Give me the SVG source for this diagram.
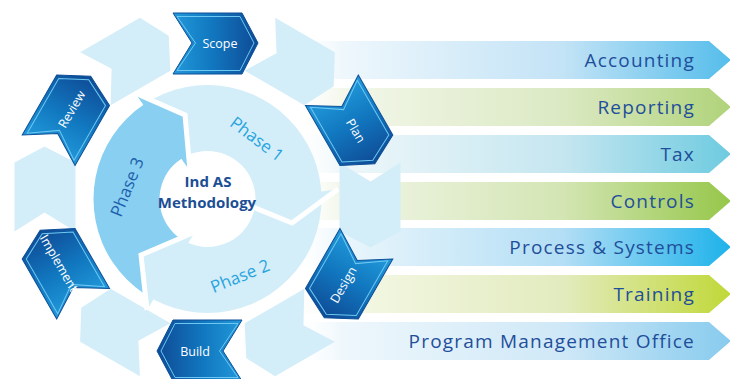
<svg xmlns="http://www.w3.org/2000/svg" width="730" height="379" viewBox="0 0 730 379">
<defs>
<style>
.bt{font-family:"Open Sans","Liberation Sans",sans-serif;font-size:19px;fill:#1f4e9a;text-anchor:end;letter-spacing:1.2px}
.cl{font-family:"Open Sans","Liberation Sans",sans-serif;font-size:12.5px;fill:#ffffff;text-anchor:middle}
.ph{font-family:"Open Sans","Liberation Sans",sans-serif;font-size:17px;text-anchor:middle}
.ct{font-family:"Open Sans","Liberation Sans",sans-serif;font-size:15px;font-weight:bold;fill:#1c4e95;text-anchor:middle}
.light{fill:#d4eef9}
.p3{fill:#88cff1}
.dark{fill:url(#gChev);stroke:#0e4f98;stroke-width:1}
.inset{fill:none;stroke:#6cc8f2;stroke-width:1}
.gap{fill:none;stroke:#ffffff;stroke-width:5;stroke-linejoin:miter;stroke-linecap:butt}
</style>
<linearGradient id="gChev" gradientUnits="userSpaceOnUse" x1="173" y1="43" x2="258" y2="43">
<stop offset="0" stop-color="#2299da"/><stop offset="0.45" stop-color="#1178c0"/><stop offset="1" stop-color="#0f4a95"/>
</linearGradient>
<linearGradient id="g1" gradientUnits="userSpaceOnUse" x1="290" y1="0" x2="731" y2="0"><stop offset="0" stop-color="#fff" stop-opacity="0"/><stop offset="0.12" stop-color="#eef7fc"/><stop offset="0.62" stop-color="#c3e3f6"/><stop offset="1" stop-color="#55bdeb"/></linearGradient>
<linearGradient id="g2" gradientUnits="userSpaceOnUse" x1="290" y1="0" x2="731" y2="0"><stop offset="0" stop-color="#fff" stop-opacity="0"/><stop offset="0.12" stop-color="#f3f7ea"/><stop offset="0.62" stop-color="#dbe9c3"/><stop offset="1" stop-color="#b0d37a"/></linearGradient>
<linearGradient id="g3" gradientUnits="userSpaceOnUse" x1="290" y1="0" x2="731" y2="0"><stop offset="0" stop-color="#fff" stop-opacity="0"/><stop offset="0.12" stop-color="#eef7fa"/><stop offset="0.62" stop-color="#c5e6f0"/><stop offset="1" stop-color="#6ecbe0"/></linearGradient>
<linearGradient id="g4" gradientUnits="userSpaceOnUse" x1="290" y1="0" x2="731" y2="0"><stop offset="0" stop-color="#fff" stop-opacity="0"/><stop offset="0.12" stop-color="#f1f6e8"/><stop offset="0.62" stop-color="#d3e5b3"/><stop offset="1" stop-color="#96c74a"/></linearGradient>
<linearGradient id="g5" gradientUnits="userSpaceOnUse" x1="290" y1="0" x2="731" y2="0"><stop offset="0" stop-color="#fff" stop-opacity="0"/><stop offset="0.12" stop-color="#eaf6fc"/><stop offset="0.62" stop-color="#b3def5"/><stop offset="1" stop-color="#1db2ea"/></linearGradient>
<linearGradient id="g6" gradientUnits="userSpaceOnUse" x1="290" y1="0" x2="731" y2="0"><stop offset="0" stop-color="#fff" stop-opacity="0"/><stop offset="0.12" stop-color="#f4f8e6"/><stop offset="0.62" stop-color="#e2ebbe"/><stop offset="1" stop-color="#c1d838"/></linearGradient>
<linearGradient id="g7" gradientUnits="userSpaceOnUse" x1="290" y1="0" x2="731" y2="0"><stop offset="0" stop-color="#fff" stop-opacity="0"/><stop offset="0.12" stop-color="#eef7fc"/><stop offset="0.62" stop-color="#cfe8f7"/><stop offset="1" stop-color="#88cbee"/></linearGradient>
<clipPath id="ring"><path clip-rule="evenodd" d="M93.5,199 A114,114 0 1,0 321.5,199 A114,114 0 1,0 93.5,199 Z M159.5,199 A48,48 0 1,0 255.5,199 A48,48 0 1,0 159.5,199 Z"/></clipPath>
<path id="chev" d="M173,13 L242,13 L258,43 L242,74 L173,74 L192,43 Z"/>
<path id="chevIn" d="M177,16.5 L240,16.5 L254,43 L240,70.5 L177,70.5 L195.5,43 Z"/>
</defs>

<rect width="730" height="379" fill="#ffffff"/>

<g id="bars">
<g id="bar-accounting"><polygon points="290,41 709,41 731,60 709,79 290,79" fill="url(#g1)"/><text class="bt" x="695" y="66.5">Accounting</text></g>
<g id="bar-reporting"><polygon points="290,88 709,88 731,107 709,126 290,126" fill="url(#g2)"/><text class="bt" x="695" y="113.5">Reporting</text></g>
<g id="bar-tax"><polygon points="290,135 709,135 731,154 709,173 290,173" fill="url(#g3)"/><text class="bt" x="695" y="160.5">Tax</text></g>
<g id="bar-controls"><polygon points="290,182 709,182 731,201 709,220 290,220" fill="url(#g4)"/><text class="bt" x="695" y="207.5">Controls</text></g>
<g id="bar-process"><polygon points="290,228 709,228 731,247 709,266 290,266" fill="url(#g5)"/><text class="bt" x="695" y="253.5">Process &amp; Systems</text></g>
<g id="bar-training"><polygon points="290,275 709,275 731,294 709,313 290,313" fill="url(#g6)"/><text class="bt" x="695" y="300.5">Training</text></g>
<g id="bar-pmo"><polygon points="290,322 709,322 731,341 709,360 290,360" fill="url(#g7)"/><text class="bt" x="695" y="347.5">Program Management Office</text></g>
</g>

<g id="light-chevrons" class="light">
<use href="#chev" transform="translate(4,0) rotate(30 207.5 197) translate(0,-3)"/>
<use href="#chev" transform="translate(6,0) rotate(90 207.5 197) translate(0,-3)"/>
<use href="#chev" transform="translate(4,0) rotate(150 207.5 197) translate(0,-3)"/>
<use href="#chev" transform="translate(-4,0) rotate(210 207.5 197) translate(0,-3)"/>
<use href="#chev" transform="translate(-6,0) rotate(270 207.5 197) translate(0,-3)"/>
<use href="#chev" transform="translate(-4,0) rotate(330 207.5 197) translate(0,-3)"/>
</g>

<g id="phase-ring">
<g id="phase1">
<polygon class="light" clip-path="url(#ring)" points="207.5,199 190,171 185,115 135,93 100,-20 450,-20 450,180 338,189 292,223 244,203.5"/>
<polygon class="light" points="338,189 292,223 244,203.5"/>
</g>
<g id="phase2">
<polygon class="light" clip-path="url(#ring)" points="207.5,199 244,203.5 292,223 338,189 450,180 450,450 100,450 147,310 141,255 195,232"/>
<polygon class="light" points="147,310 141,255 195,232"/>
</g>
<g id="phase3">
<polygon class="p3" clip-path="url(#ring)" points="207.5,199 195,232 141,255 147,310 100,450 -50,450 -50,-20 100,-20 135,93 185,115 190,171"/>
<polygon class="p3" points="135,93 185,115 190,171"/>
</g>
<g id="gaps">
<polyline class="gap" points="190,171 185,115 135,93"/>
<polyline class="gap" points="244,203.5 292,223 338,189"/>
<polyline class="gap" points="195,232 141,255 147,310"/>
</g>
<text class="ph" fill="#2aa4df" transform="translate(257,139) rotate(37)" y="6">Phase 1</text>
<text class="ph" fill="#2aa4df" transform="translate(240,276) rotate(-22)" y="6">Phase 2</text>
<text class="ph" fill="#1f5fab" transform="translate(127,187) rotate(-68)" y="6">Phase 3</text>
</g>

<g id="center">
<text class="ct" x="208" y="186.5">Ind AS</text>
<text class="ct" x="207" y="207.5">Methodology</text>
</g>

<g id="scope">
<use href="#chev" class="dark"/><use href="#chevIn" class="inset"/>
<text class="cl" x="220" y="47.5">Scope</text>
</g>
<g id="plan" transform="translate(8.7,0) rotate(60 207.5 197)">
<use href="#chev" class="dark"/><use href="#chevIn" class="inset"/>
<text class="cl" x="220" y="47.5">Plan</text>
</g>
<g id="design" transform="translate(8.7,0) rotate(120 207.5 197)">
<use href="#chev" class="dark"/><use href="#chevIn" class="inset"/>
<text class="cl" x="220" y="47.5" transform="rotate(180 220 43)">Design</text>
</g>
<g id="build" transform="rotate(180 207.5 197)">
<use href="#chev" class="dark"/><use href="#chevIn" class="inset"/>
<text class="cl" x="220" y="47.5" transform="rotate(180 220 43)">Build</text>
</g>
<g id="implement" transform="translate(-8.7,0) rotate(240 207.5 197)">
<use href="#chev" class="dark"/><use href="#chevIn" class="inset"/>
<text class="cl" x="220" y="47.5" transform="rotate(180 220 43)">Implement</text>
</g>
<g id="review" transform="translate(-8.7,0) rotate(300 207.5 197)">
<use href="#chev" class="dark"/><use href="#chevIn" class="inset"/>
<text class="cl" x="220" y="47.5">Review</text>
</g>
</svg>
